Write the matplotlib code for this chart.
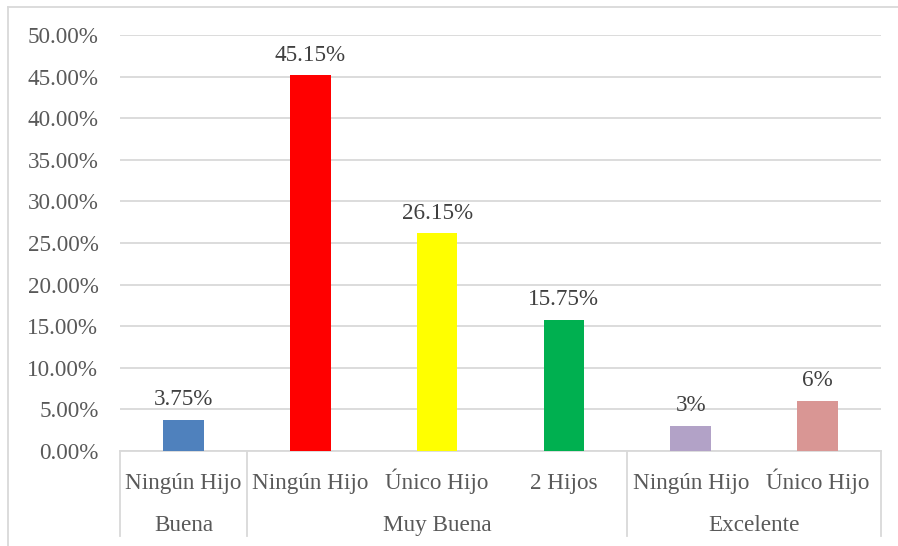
import matplotlib
matplotlib.use("Agg")
import matplotlib.pyplot as plt
from matplotlib.lines import Line2D
from matplotlib.ticker import FuncFormatter

categories = ["Ningún Hijo", "Ningún Hijo", "Único Hijo", "2 Hijos", "Ningún Hijo", "Único Hijo"]
groups = ["Buena", "Muy Buena", "Excelente"]
group_sizes = [1, 3, 2]
values = [3.75, 45.15, 26.15, 15.75, 3, 6]
value_labels = ["3.75%", "45.15%", "26.15%", "15.75%", "3%", "6%"]
colors = ["#4F81BD", "#FF0000", "#FFFF00", "#00B050", "#B2A2C7", "#D99694"]

W, H = 898, 546
plt.rcParams['font.family'] = ['Liberation Serif', 'DejaVu Serif']
FS = 16.7
txt = "#595959"
grid = "#D9D9D9"

fig = plt.figure(figsize=(W / 100, H / 100), dpi=100)
L, R, B, T = 120, 881, 451, 35
ax = fig.add_axes([L / W, (H - B) / H, (R - L) / W, (B - T) / H])

x = list(range(len(values)))
ax.bar(x, values, width=0.32, color=colors, zorder=3)
for xi, v, lab in zip(x, values, value_labels):
    ax.annotate(lab, (xi, v), xytext=(0, 10.5), textcoords="offset points",
                ha="center", va="baseline", fontsize=FS, color="#404040")

ax.set_xlim(-0.5, len(values) - 0.5)
ax.set_ylim(0, 50)
ax.set_yticks([i * 5 for i in range(11)])
ax.yaxis.set_major_formatter(FuncFormatter(lambda v, p: f"{v:.2f}%"))
ax.tick_params(axis="y", length=0, pad=15.5, labelsize=FS, labelcolor=txt)
ax.set_xticks([])
ax.grid(axis="y", color=grid, linewidth=1.3, zorder=0)
for s in ["top", "right", "left"]:
    ax.spines[s].set_visible(False)
ax.spines["bottom"].set_color(grid)
ax.spines["bottom"].set_linewidth(1.3)

# multi-level category labels
trans = ax.get_xaxis_transform()
y1 = -(489 - B) / (B - T)
y2 = -(531 - B) / (B - T)
ybot = -(536 - B) / (B - T)
for xi, c in zip(x, categories):
    ax.text(xi, y1, c, transform=trans, ha="center", va="baseline", fontsize=FS, color=txt)
start = 0
seps = [-0.5]
for g, n in zip(groups, group_sizes):
    center = start + (n - 1) / 2
    ax.text(center, y2, g, transform=trans, ha="center", va="baseline", fontsize=FS, color=txt)
    start += n
    seps.append(start - 0.5)
for sx in seps:
    ax.add_line(Line2D([sx, sx], [0, ybot], transform=trans, color=grid, linewidth=1.3, clip_on=False))

# outer chart border (top and left visible)
fig.add_artist(Line2D([8 / W, 1], [1 - 7 / H, 1 - 7 / H], transform=fig.transFigure, color=grid, linewidth=1.3))
fig.add_artist(Line2D([8 / W, 8 / W], [0, 1 - 7 / H], transform=fig.transFigure, color=grid, linewidth=1.3))

fig.savefig("out.png", dpi=100)
